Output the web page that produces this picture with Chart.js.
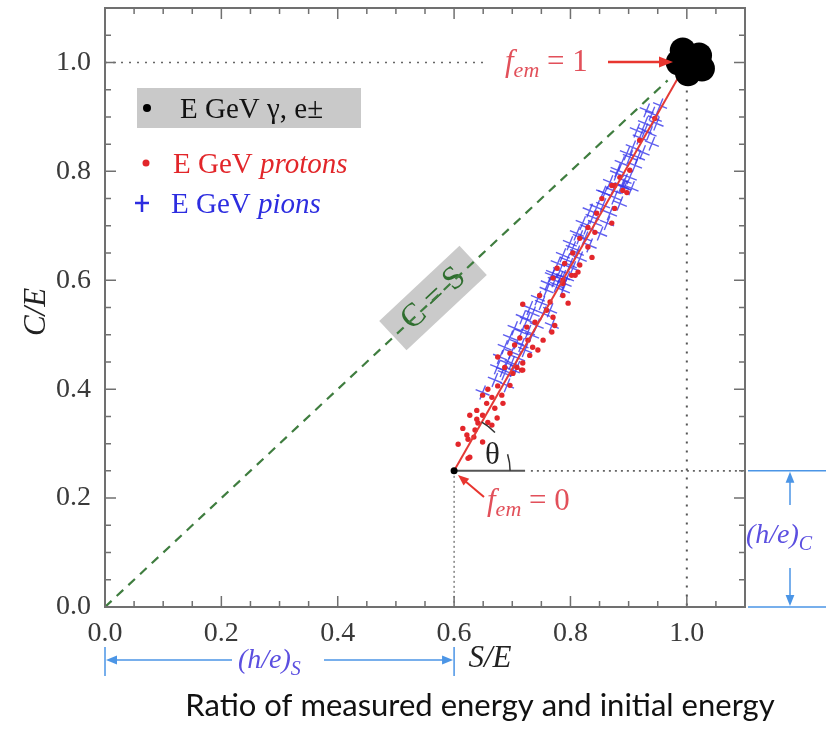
<!DOCTYPE html>
<html>
<head>
<meta charset="utf-8">
<script src="https://cdn.jsdelivr.net/npm/chart.js@4.4.1/dist/chart.umd.min.js"></script>
<style>
  html, body { margin: 0; padding: 0; background: #fff; }
  #wrap { width: 833px; height: 732px; position: relative; }
</style>
</head>
<body>
<div id="wrap"><canvas id="myChart"></canvas></div>
<script>
// axis ticks
const tickVals = [0, 0.2, 0.4, 0.6, 0.8, 1.0];
const minorStep = 0.05;

// electrons / gammas, all sit at S/E = C/E = 1
const emS = [0.993, 1.021, 1.026, 1.002, 0.986, 1.005];
const emC = [1.022, 1.013, 0.989, 0.980, 1.000, 1.000];

// protons (red dots)
const protonS = [0.624, 0.607, 0.624, 0.615, 0.634, 0.627, 0.639, 0.641, 0.649, 0.639,
  0.656, 0.670, 0.674, 0.658, 0.649, 0.665, 0.682, 0.684, 0.658, 0.675,
  0.696, 0.701, 0.716, 0.718, 0.627, 0.649, 0.636, 0.622, 0.665, 0.718,
  0.747, 0.796, 0.770, 0.768, 0.773, 0.753, 0.744, 0.675, 0.687, 0.708,
  0.718, 0.735, 0.739, 0.725, 0.713, 0.696, 0.765, 0.787, 0.808, 0.813,
  0.787, 0.759, 0.730, 0.704, 0.727, 0.871, 0.897, 0.854, 0.876, 0.845,
  0.871, 0.830, 0.842, 0.816, 0.830, 0.804, 0.837, 0.790, 0.816, 0.777,
  0.802, 0.770, 0.787, 0.890, 0.885, 0.902, 0.876, 0.919, 0.945];
const protonC = [0.273, 0.299, 0.308, 0.328, 0.312, 0.352, 0.345, 0.338, 0.352, 0.361,
  0.374, 0.365, 0.347, 0.339, 0.389, 0.385, 0.389, 0.374, 0.400, 0.406,
  0.407, 0.429, 0.435, 0.448, 0.275, 0.303, 0.325, 0.316, 0.334, 0.556,
  0.572, 0.558, 0.532, 0.505, 0.517, 0.490, 0.472, 0.459, 0.440, 0.440,
  0.435, 0.477, 0.523, 0.514, 0.494, 0.466, 0.560, 0.572, 0.609, 0.615,
  0.594, 0.545, 0.462, 0.481, 0.490, 0.774, 0.761, 0.750, 0.732, 0.723,
  0.705, 0.697, 0.688, 0.677, 0.661, 0.650, 0.642, 0.631, 0.628, 0.622,
  0.609, 0.604, 0.600, 0.765, 0.789, 0.802, 0.774, 0.857, 0.897];

// pions (blue crosses)
const pionS = [0.649, 0.670, 0.691, 0.687, 0.699, 0.708, 0.770, 0.794, 0.777, 0.751,
  0.735, 0.765, 0.725, 0.768, 0.716, 0.708, 0.699, 0.722, 0.691, 0.684,
  0.734, 0.888, 0.859, 0.885, 0.845, 0.838, 0.868, 0.828, 0.851, 0.816,
  0.833, 0.804, 0.794, 0.816, 0.782, 0.804, 0.773, 0.790, 0.954, 0.940,
  0.948, 0.928, 0.936, 0.919, 0.940, 0.907, 0.924, 0.902, 0.888, 0.911,
  0.880, 0.902, 0.868, 0.890, 0.856, 0.905,
  0.893, 0.876, 0.856, 0.833, 0.863, 0.821, 0.842, 0.811, 0.825, 0.799,
  0.811, 0.787, 0.778, 0.799, 0.768, 0.787, 0.761,
  0.782, 0.759, 0.787, 0.744, 0.730, 0.753, 0.718, 0.742, 0.704, 0.727,
  0.696, 0.716, 0.687, 0.679, 0.710, 0.674, 0.701,
  0.931, 0.945, 0.914, 0.928, 0.897, 0.916, 0.881, 0.893, 0.873];
const pionC = [0.394, 0.417, 0.407, 0.429, 0.448, 0.439, 0.613, 0.604, 0.591, 0.558,
  0.539, 0.545, 0.527, 0.517, 0.505, 0.486, 0.468, 0.472, 0.448, 0.435,
  0.499, 0.774, 0.760, 0.741, 0.734, 0.716, 0.723, 0.697, 0.686, 0.679,
  0.664, 0.659, 0.637, 0.640, 0.618, 0.622, 0.600, 0.594, 0.921, 0.906,
  0.888, 0.888, 0.870, 0.862, 0.851, 0.844, 0.835, 0.826, 0.815, 0.811,
  0.796, 0.789, 0.780, 0.771, 0.761, 0.769,
  0.771, 0.752, 0.738, 0.728, 0.705, 0.705, 0.705, 0.686, 0.677, 0.668,
  0.651, 0.646, 0.631, 0.628, 0.609, 0.606, 0.594,
  0.604, 0.582, 0.582, 0.567, 0.549, 0.539, 0.532, 0.517, 0.512, 0.505,
  0.495, 0.481, 0.477, 0.459, 0.457, 0.440, 0.435,
  0.912, 0.897, 0.875, 0.875, 0.833, 0.826, 0.802, 0.783, 0.765];

// lines
const diagS = [0, 0.967], diagC = [0, 0.967];     // C = S
const fitS = [0.6, 1.0], fitC = [0.25, 1.0];      // f_em = 0 -> f_em = 1
const hS = 0.6, hC = 0.25;                         // (h/e)_S , (h/e)_C

function pts(xs, ys) { return xs.map((x, i) => ({ x: x, y: ys[i] })); }

const SERIF = '"Liberation Serif", "DejaVu Serif", serif';
const BLUE_TXT = '#5b4fe0';
const BLUE_LN = '#4b95e6';
const RED_TXT = '#e2505a';

function runs(ctx, x, y, parts) {
  parts.forEach(p => {
    ctx.font = p.font;
    ctx.fillStyle = p.color;
    ctx.fillText(p.t, x, y + (p.dy || 0));
    x += ctx.measureText(p.t).width;
  });
}

function arrow(ctx, x1, y1, x2, y2, color, w, head) {
  const a = Math.atan2(y2 - y1, x2 - x1);
  ctx.save();
  ctx.strokeStyle = color; ctx.fillStyle = color; ctx.lineWidth = w;
  ctx.beginPath();
  ctx.moveTo(x1, y1);
  ctx.lineTo(x2 - Math.cos(a) * head * 0.8, y2 - Math.sin(a) * head * 0.8);
  ctx.stroke();
  ctx.beginPath();
  ctx.moveTo(x2, y2);
  ctx.lineTo(x2 - head * Math.cos(a) + head * 0.4 * Math.sin(a), y2 - head * Math.sin(a) - head * 0.4 * Math.cos(a));
  ctx.lineTo(x2 - head * Math.cos(a) - head * 0.4 * Math.sin(a), y2 - head * Math.sin(a) + head * 0.4 * Math.cos(a));
  ctx.closePath();
  ctx.fill();
  ctx.restore();
}

const decor = {
  id: 'decor',
  beforeDatasetsDraw(chart) {
    const ctx = chart.ctx, xs = chart.scales.x, ys = chart.scales.y;
    const X = v => xs.getPixelForValue(v), Y = v => ys.getPixelForValue(v);
    ctx.save();
    // legend
    ctx.fillStyle = '#c9c9c9';
    ctx.fillRect(137, 88, 224, 40);
    ctx.beginPath(); ctx.arc(147, 108, 4, 0, Math.PI * 2); ctx.fillStyle = '#000'; ctx.fill();
    ctx.textBaseline = 'alphabetic'; ctx.textAlign = 'left';
    runs(ctx, 180, 118, [{ t: 'E GeV \u03b3, e\u00b1', font: '29px ' + SERIF, color: '#111' }]);
    ctx.beginPath(); ctx.arc(146, 163, 3.5, 0, Math.PI * 2); ctx.fillStyle = '#e2262a'; ctx.fill();
    runs(ctx, 173, 173, [{ t: 'E GeV ', font: '29px ' + SERIF, color: '#e2262a' },
                         { t: 'protons', font: 'italic 29px ' + SERIF, color: '#e2262a' }]);
    ctx.strokeStyle = '#2d2de0'; ctx.lineWidth = 2.5;
    ctx.beginPath(); ctx.moveTo(135, 203); ctx.lineTo(149, 203); ctx.moveTo(142, 195); ctx.lineTo(142, 212); ctx.stroke();
    runs(ctx, 171, 213, [{ t: 'E GeV ', font: '29px ' + SERIF, color: '#2d2de0' },
                         { t: 'pions', font: 'italic 29px ' + SERIF, color: '#2d2de0' }]);

    // C = S label
    ctx.save();
    ctx.translate(433, 298);
    ctx.rotate(-Math.atan2(Y(0) - Y(1), X(1) - X(0)));
    ctx.fillStyle = '#cacaca';
    ctx.fillRect(-55, -20, 110, 40);
    ctx.fillStyle = '#2f6e2f';
    ctx.font = '33px ' + SERIF; ctx.textAlign = 'center'; ctx.textBaseline = 'middle';
    ctx.fillText('C = S', 0, 1);
    ctx.restore();
    ctx.restore();
  },
  afterDatasetsDraw(chart) {
    const ctx = chart.ctx, xs = chart.scales.x, ys = chart.scales.y, ca = chart.chartArea;
    const X = v => xs.getPixelForValue(v), Y = v => ys.getPixelForValue(v);
    ctx.save();
    // frame
    ctx.strokeStyle = '#707070'; ctx.lineWidth = 2;
    ctx.strokeRect(ca.left, ca.top, ca.right - ca.left, ca.bottom - ca.top);
    // inward ticks
    ctx.lineWidth = 1.5;
    for (let v = 0; v <= xs.max + 1e-9; v += minorStep) {
      const major = tickVals.some(t => Math.abs(t - v) < 1e-6);
      const len = major ? 11 : 6;
      const px = X(v), py = Y(v);
      ctx.beginPath();
      ctx.moveTo(px, ca.bottom); ctx.lineTo(px, ca.bottom - len);
      ctx.moveTo(px, ca.top); ctx.lineTo(px, ca.top + len);
      ctx.moveTo(ca.left, py); ctx.lineTo(ca.left + len, py);
      ctx.moveTo(ca.right, py); ctx.lineTo(ca.right - len, py);
      ctx.stroke();
    }

    // theta
    const ox = X(fitS[0]), oy = Y(fitC[0]);
    const ang = Math.atan2(Y(fitC[1]) - oy, X(fitS[1]) - ox);
    ctx.strokeStyle = '#333'; ctx.lineWidth = 1.5;
    ctx.beginPath(); ctx.arc(ox, oy, 56, -0.3, 0); ctx.stroke();
    ctx.beginPath(); ctx.arc(ox, oy, 56, ang, ang + 0.3); ctx.stroke();
    ctx.fillStyle = '#222'; ctx.font = '31px ' + SERIF; ctx.textAlign = 'left'; ctx.textBaseline = 'alphabetic';
    ctx.fillText('\u03b8', 485, 464);

    // f_em = 1
    runs(ctx, 505, 71, [{ t: 'f', font: 'italic 31px ' + SERIF, color: RED_TXT },
                        { t: 'em', font: 'italic 22px ' + SERIF, color: RED_TXT, dy: 6 },
                        { t: ' = 1', font: '31px ' + SERIF, color: RED_TXT }]);
    arrow(ctx, 608, 62, 673, 62, '#e8352f', 2.5, 14);
    // f_em = 0
    runs(ctx, 487, 510, [{ t: 'f', font: 'italic 31px ' + SERIF, color: RED_TXT },
                         { t: 'em', font: 'italic 22px ' + SERIF, color: RED_TXT, dy: 6 },
                         { t: ' = 0', font: '31px ' + SERIF, color: RED_TXT }]);
    arrow(ctx, 484, 497, 458, 475, '#e8352f', 2, 11);

    // (h/e)_C on the right
    const yc = Y(hC), y0 = Y(0), xr = 790;
    ctx.strokeStyle = BLUE_LN; ctx.lineWidth = 1.5;
    ctx.beginPath();
    ctx.moveTo(ca.right + 3, yc); ctx.lineTo(826, yc);
    ctx.moveTo(ca.right + 3, y0); ctx.lineTo(826, y0);
    ctx.stroke();
    arrow(ctx, xr, 505, xr, yc + 1, BLUE_LN, 1.5, 11);
    arrow(ctx, xr, 568, xr, y0 - 1, BLUE_LN, 1.5, 11);
    runs(ctx, 746, 543, [{ t: '(h/e)', font: 'italic 28px ' + SERIF, color: BLUE_TXT },
                         { t: 'C', font: 'italic 20px ' + SERIF, color: BLUE_TXT, dy: 7 }]);

    // (h/e)_S below
    const xa = X(0), xb = X(hS), yb = 660;
    ctx.beginPath();
    ctx.moveTo(xa, 647); ctx.lineTo(xa, 676);
    ctx.moveTo(xb, 647); ctx.lineTo(xb, 676);
    ctx.stroke();
    arrow(ctx, 232, yb, xa + 1, yb, BLUE_LN, 1.5, 11);
    arrow(ctx, 324, yb, xb - 1, yb, BLUE_LN, 1.5, 11);
    runs(ctx, 238, 668, [{ t: '(h/e)', font: 'italic 28px ' + SERIF, color: BLUE_TXT },
                         { t: 'S', font: 'italic 20px ' + SERIF, color: BLUE_TXT, dy: 7 }]);

    // axis titles
    ctx.fillStyle = '#222'; ctx.font = 'italic 31px ' + SERIF;
    ctx.textAlign = 'center';
    ctx.fillText('S/E', 490, 667);
    ctx.save();
    ctx.translate(45, 312); ctx.rotate(-Math.PI / 2);
    ctx.fillText('C/E', 0, 0);
    ctx.restore();

    // caption
    ctx.fillStyle = '#111';
    const cap = 'Ratio of measured energy and initial energy';
    let fs = 30;
    ctx.font = fs + 'px Lato, "Open Sans", sans-serif';
    const w = ctx.measureText(cap).width;
    fs = fs * 590 / w;
    ctx.font = fs.toFixed(1) + 'px Lato, "Open Sans", sans-serif';
    ctx.fillText(cap, 480, 716);
    ctx.restore();
  }
};

const ctx = document.getElementById('myChart');

new Chart(ctx, {
  type: 'scatter',
  data: {
    datasets: [
      { // fit line
        data: pts(fitS, fitC), showLine: true, borderColor: '#e43a36', borderWidth: 2,
        pointRadius: 0, order: 1
      },
      { // origin dot
        data: [{ x: fitS[0], y: fitC[0] }], pointRadius: 3.5, backgroundColor: '#000', borderWidth: 0, order: 0
      },
      {
        data: pts(protonS, protonC), pointRadius: 2.7, backgroundColor: '#e3262b', borderWidth: 0, order: 2
      },
      {
        data: pts(pionS, pionC), pointStyle: 'cross', pointRadius: 7.5, rotation: 22,
        borderColor: 'rgba(55,55,235,0.8)', borderWidth: 1.4, order: 3
      },
      {
        data: pts(emS, emC), pointRadius: 13, backgroundColor: '#000', borderWidth: 0, order: 0
      },
      { // C = S
        data: pts(diagS, diagC), showLine: true, borderColor: '#3f7d3f', borderWidth: 2.2,
        borderDash: [9, 7], pointRadius: 0, order: 5
      },
      { // dotted guide at C/E = 1
        data: [{ x: 0, y: 1 }, { x: 0.65, y: 1 }], showLine: true, borderColor: '#666',
        borderWidth: 1.6, borderDash: [2, 6], pointRadius: 0, order: 6
      },
      { // dotted guide at S/E = 1
        data: [{ x: 1, y: 0.965 }, { x: 1, y: 0 }], showLine: true, borderColor: '#555',
        borderWidth: 2, borderDash: [2, 7], pointRadius: 0, order: 6
      },
      { // dotted guide at S/E = 0.6
        data: [{ x: hS, y: hC }, { x: hS, y: 0 }], showLine: true, borderColor: '#444',
        borderWidth: 1, borderDash: [2, 3], pointRadius: 0, order: 6
      },
      { // base of theta
        data: [{ x: hS, y: hC }, { x: 0.722, y: hC }], showLine: true, borderColor: '#555',
        borderWidth: 2, pointRadius: 0, order: 6
      },
      { // dotted continuation
        data: [{ x: 0.732, y: hC }, { x: 1.1, y: hC }], showLine: true, borderColor: '#666',
        borderWidth: 1.6, borderDash: [2, 4], pointRadius: 0, order: 6
      }
    ]
  },
  options: {
    responsive: true,
    maintainAspectRatio: false,
    animation: false,
    layout: { autoPadding: false, padding: { top: 8, right: 88, left: 0, bottom: 0 } },
    plugins: { legend: { display: false }, tooltip: { enabled: false } },
    scales: {
      x: {
        type: 'linear', min: 0, max: 1.1,
        afterBuildTicks: s => { s.ticks = tickVals.map(v => ({ value: v })); },
        afterFit: s => { s.height = 125; s.paddingLeft = 0; s.paddingRight = 0; },
        grid: { display: false, drawTicks: false },
        border: { display: false },
        ticks: {
          padding: 10, color: '#3a3a3a', maxRotation: 0,
          font: { family: SERIF, size: 28 },
          callback: v => Number(v).toFixed(1)
        }
      },
      y: {
        type: 'linear', min: 0, max: 1.1,
        afterBuildTicks: s => { s.ticks = tickVals.map(v => ({ value: v })); },
        afterFit: s => { s.width = 105; s.paddingTop = 0; s.paddingBottom = 0; },
        grid: { display: false, drawTicks: false },
        border: { display: false },
        ticks: {
          padding: 14, color: '#3a3a3a',
          font: { family: SERIF, size: 28 },
          callback: v => Number(v).toFixed(1)
        }
      }
    }
  },
  plugins: [decor]
});
</script>
</body>
</html>
